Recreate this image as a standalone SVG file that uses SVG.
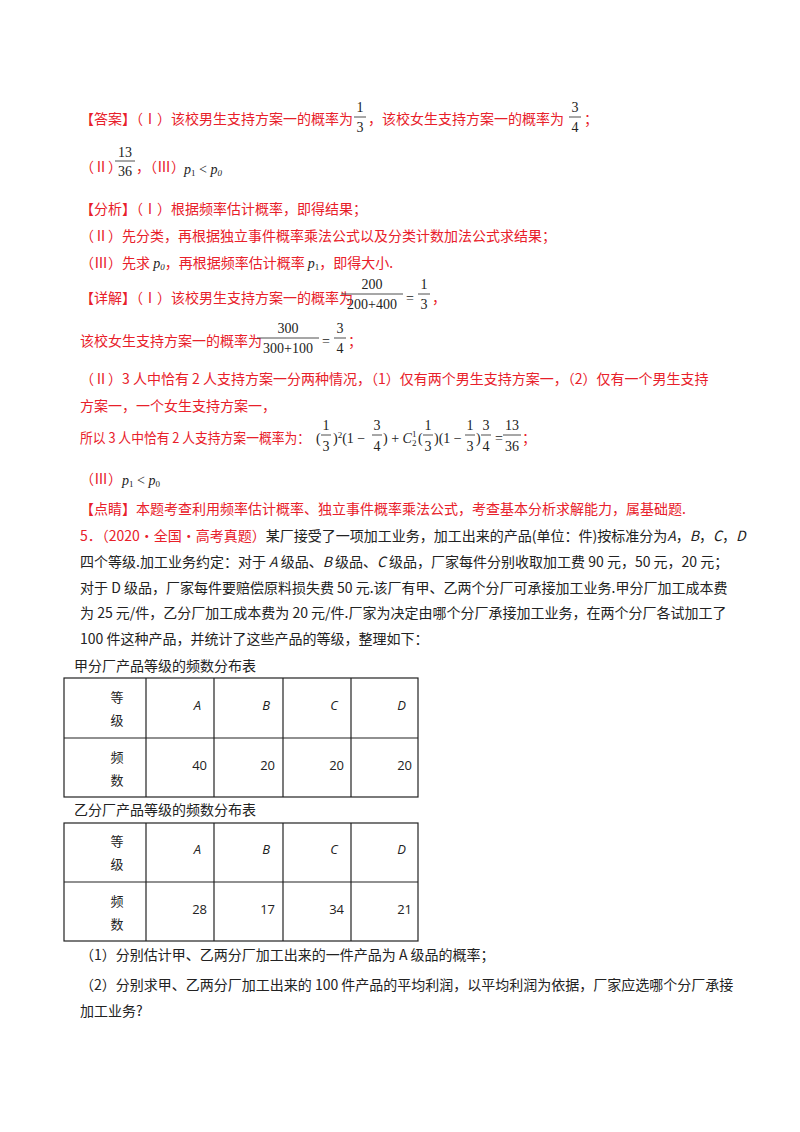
<svg xmlns="http://www.w3.org/2000/svg" width="800" height="1132" viewBox="0 0 800 1132">
<style>
text{font-family:"Noto Sans CJK SC",sans-serif;font-size:14px}
.r{fill:#e8202a}
.k{fill:#222}
.m{font-family:"Liberation Serif",serif;font-size:14px;fill:#222}
.i{font-style:italic}
.s{font-size:9px}
.c{text-anchor:middle}
.t{font-family:"Open Sans","Noto Sans CJK SC",sans-serif;font-size:13px;fill:#222}
line.f{stroke:#222;stroke-width:0.8}
.g rect,.g line{stroke:#222;stroke-width:1.2;fill:none}
</style>
<rect width="800" height="1132" fill="#fff"/>
<g id="answer">
<text x="80" y="124" class="r">【答案】（Ⅰ）该校男生支持方案一的概率为</text>
<text x="360" y="112" class="m c">1</text><line class="f" x1="354" y1="117" x2="366" y2="117"/><text x="360" y="132" class="m c">3</text>
<text x="368" y="124" class="r">，该校女生支持方案一的概率为</text>
<text x="575" y="112" class="m c">3</text><line class="f" x1="569" y1="117" x2="581" y2="117"/><text x="575" y="132" class="m c">4</text>
<text x="584" y="124" class="r">；</text>
<text x="80" y="172" class="r">（Ⅱ）</text>
<text x="125" y="157" class="m c">13</text><line class="f" x1="115" y1="161" x2="135" y2="161"/><text x="125" y="176" class="m c">36</text>
<text x="136" y="172" class="r">，（Ⅲ）</text>
<text x="184" y="174" class="m"><tspan class="i">p</tspan><tspan class="s" dy="2">1</tspan><tspan dy="-2"> &lt; </tspan><tspan class="i">p</tspan><tspan class="s i" dy="2">0</tspan></text>
</g>
<g id="analysis">
<text x="80" y="214" class="r">【分析】（Ⅰ）根据频率估计概率，即得结果；</text>
<text x="80" y="241" class="r">（Ⅱ）先分类，再根据独立事件概率乘法公式以及分类计数加法公式求结果；</text>
<text x="80" y="268" class="r">（Ⅲ）先求 <tspan class="m i">p</tspan><tspan class="m s i" dy="2">0</tspan><tspan dy="-2">，再根据频率估计概率 </tspan><tspan class="m i">p</tspan><tspan class="m s" dy="2">1</tspan><tspan dy="-2">，即得大小.</tspan></text>
</g>
<g id="detail">
<text x="80" y="303" class="r">【详解】（Ⅰ）该校男生支持方案一的概率为</text>
<text x="372" y="289" class="m c">200</text><line class="f" x1="341" y1="294" x2="403" y2="294"/><text x="372" y="309" class="m c">200+400</text>
<text x="406" y="303" class="m">=</text>
<text x="424" y="289" class="m c">1</text><line class="f" x1="418" y1="294" x2="430" y2="294"/><text x="424" y="309" class="m c">3</text>
<text x="432" y="303" class="r">，</text>
<text x="80" y="346" class="r">该校女生支持方案一的概率为</text>
<text x="288" y="333" class="m c">300</text><line class="f" x1="257" y1="338" x2="319" y2="338"/><text x="288" y="353" class="m c">300+100</text>
<text x="322" y="346" class="m">=</text>
<text x="340" y="333" class="m c">3</text><line class="f" x1="334" y1="338" x2="346" y2="338"/><text x="340" y="353" class="m c">4</text>
<text x="348" y="346" class="r">；</text>
<text x="80" y="384" class="r">（Ⅱ）3 人中恰有 2 人支持方案一分两种情况，（1）仅有两个男生支持方案一，（2）仅有一个男生支持</text>
<text x="80" y="411" class="r">方案一，一个女生支持方案一，</text>
<text x="80" y="443" class="r" textLength="230" lengthAdjust="spacingAndGlyphs">所以 3 人中恰有 2 人支持方案一概率为：</text>
<g transform="translate(8,0)">
<text x="308" y="443" class="m">(</text>
<text x="318" y="430" class="m c">1</text><line class="f" x1="313" y1="435" x2="323" y2="435"/><text x="318" y="451" class="m c">3</text>
<text x="325" y="443" class="m">)<tspan class="s" dy="-5">2</tspan><tspan dy="5">(1 − </tspan></text>
<text x="369" y="430" class="m c">3</text><line class="f" x1="364" y1="435" x2="374" y2="435"/><text x="369" y="451" class="m c">4</text>
<text x="375" y="443" class="m">) + <tspan class="i">C</tspan></text>
<text x="404" y="446" class="m s">2</text><text x="404" y="437" class="m s">1</text>
<text x="410" y="443" class="m">(</text>
<text x="420" y="430" class="m c">1</text><line class="f" x1="415" y1="435" x2="425" y2="435"/><text x="420" y="451" class="m c">3</text>
<text x="426" y="443" class="m">)(1 − </text>
<text x="462" y="430" class="m c">1</text><line class="f" x1="457" y1="435" x2="467" y2="435"/><text x="462" y="451" class="m c">3</text>
<text x="468" y="443" class="m">)</text>
<text x="478" y="430" class="m c">3</text><line class="f" x1="473" y1="435" x2="483" y2="435"/><text x="478" y="451" class="m c">4</text>
<text x="487" y="443" class="m">=</text>
<text x="504" y="430" class="m c">13</text><line class="f" x1="495" y1="435" x2="513" y2="435"/><text x="504" y="451" class="m c">36</text>
<text x="514" y="443" class="r">；</text>
</g>
<text x="80" y="484" class="r">（Ⅲ）</text>
<text x="122" y="485" class="m"><tspan class="i">p</tspan><tspan class="s" dy="2">1</tspan><tspan dy="-2"> &lt; </tspan><tspan class="i">p</tspan><tspan class="s" dy="2">0</tspan></text>
<text x="80" y="514" class="r">【点睛】本题考查利用频率估计概率、独立事件概率乘法公式，考查基本分析求解能力，属基础题.</text>
</g>
<g id="problem" class="k">
<text x="80" y="541"><tspan class="r">5．（2020·全国·高考真题）</tspan>某厂接受了一项加工业务，加工出来的产品(单位：件)按标准分为<tspan font-style="italic">A</tspan>，<tspan font-style="italic">B</tspan>，<tspan font-style="italic">C</tspan>，<tspan font-style="italic">D</tspan></text>
<text x="80" y="567">四个等级.加工业务约定：对于 <tspan font-style="italic">A</tspan> 级品、<tspan font-style="italic">B</tspan> 级品、<tspan font-style="italic">C</tspan> 级品，厂家每件分别收取加工费 90 元，50 元，20 元；</text>
<text x="80" y="593">对于 D 级品，厂家每件要赔偿原料损失费 50 元.该厂有甲、乙两个分厂可承接加工业务.甲分厂加工成本费</text>
<text x="80" y="618">为 25 元/件，乙分厂加工成本费为 20 元/件.厂家为决定由哪个分厂承接加工业务，在两个分厂各试加工了</text>
<text x="80" y="644">100 件这种产品，并统计了这些产品的等级，整理如下：</text>
<text x="74" y="671">甲分厂产品等级的频数分布表</text>
<text x="74" y="815">乙分厂产品等级的频数分布表</text>
<text x="80" y="960">（1）分别估计甲、乙两分厂加工出来的一件产品为 A 级品的概率；</text>
<text x="80" y="990">（2）分别求甲、乙两分厂加工出来的 100 件产品的平均利润，以平均利润为依据，厂家应选哪个分厂承接</text>
<text x="80" y="1016">加工业务?</text>
</g>
<g id="table1" class="g">
<rect x="64" y="678" width="354" height="119"/>
<line x1="64" y1="738" x2="418" y2="738"/>
<line x1="146" y1="678" x2="146" y2="797"/><line x1="214" y1="678" x2="214" y2="797"/>
<line x1="283" y1="678" x2="283" y2="797"/><line x1="351" y1="678" x2="351" y2="797"/>
<text x="117" y="702" class="t c">等</text><text x="117" y="725" class="t c">级</text>
<text x="117" y="762" class="t c">频</text><text x="117" y="785" class="t c">数</text>
<text x="201" y="710" class="t" text-anchor="end" font-style="italic">A</text>
<text x="270" y="710" class="t" text-anchor="end" font-style="italic">B</text>
<text x="338" y="710" class="t" text-anchor="end" font-style="italic">C</text>
<text x="406" y="710" class="t" text-anchor="end" font-style="italic">D</text>
<text x="207" y="770" class="t" text-anchor="end">40</text>
<text x="275" y="770" class="t" text-anchor="end">20</text>
<text x="344" y="770" class="t" text-anchor="end">20</text>
<text x="412" y="770" class="t" text-anchor="end">20</text>
</g>
<g id="table2" class="g">
<rect x="64" y="823" width="354" height="118"/>
<line x1="64" y1="882" x2="418" y2="882"/>
<line x1="146" y1="823" x2="146" y2="941"/><line x1="214" y1="823" x2="214" y2="941"/>
<line x1="283" y1="823" x2="283" y2="941"/><line x1="351" y1="823" x2="351" y2="941"/>
<text x="117" y="846" class="t c">等</text><text x="117" y="869" class="t c">级</text>
<text x="117" y="906" class="t c">频</text><text x="117" y="929" class="t c">数</text>
<text x="201" y="854" class="t" text-anchor="end" font-style="italic">A</text>
<text x="270" y="854" class="t" text-anchor="end" font-style="italic">B</text>
<text x="338" y="854" class="t" text-anchor="end" font-style="italic">C</text>
<text x="406" y="854" class="t" text-anchor="end" font-style="italic">D</text>
<text x="207" y="914" class="t" text-anchor="end">28</text>
<text x="275" y="914" class="t" text-anchor="end">17</text>
<text x="344" y="914" class="t" text-anchor="end">34</text>
<text x="412" y="914" class="t" text-anchor="end">21</text>
</g>
</svg>
